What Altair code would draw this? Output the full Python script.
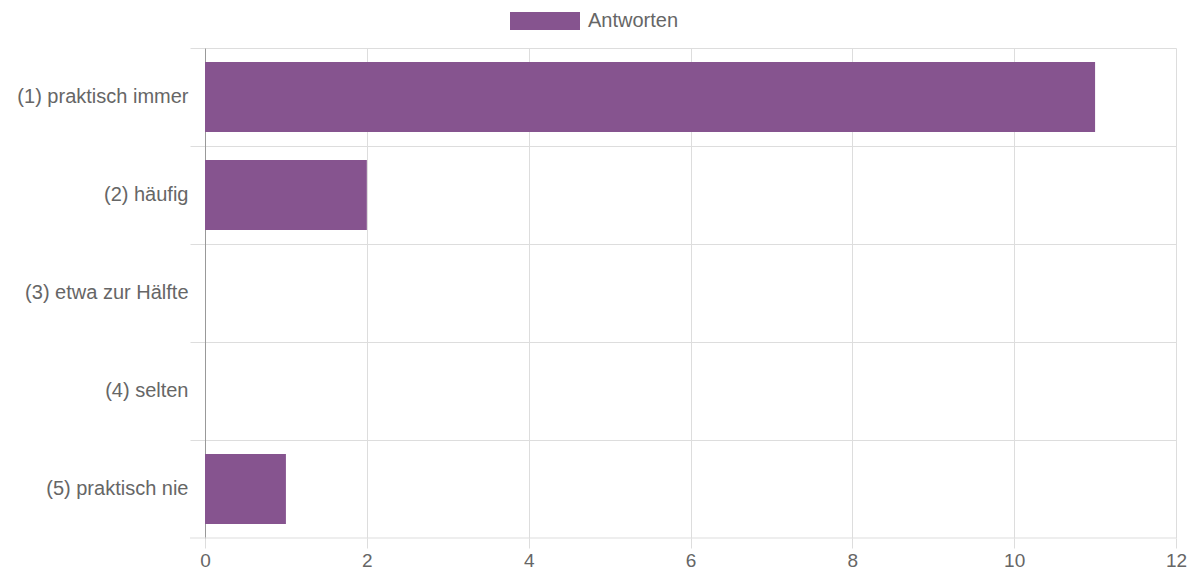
import altair as alt
import pandas as pd

categories = ["(1) praktisch immer", "(2) häufig", "(3) etwa zur Hälfte", "(4) selten", "(5) praktisch nie"]
values = [11, 2, 0, 0, 1]
series = ["Antworten"] * len(categories)

df = pd.DataFrame({"Kategorie": categories, "Anzahl": values, "Serie": series})

FONT = "Liberation Sans"
TXT = "#666666"
FS = 20

bars = alt.Chart(df).mark_bar(size=70).encode(
    y=alt.Y("Kategorie:N", sort=categories, title=None,
            axis=alt.Axis(bandPosition=0, tickSize=15, tickColor="#dddddd", grid=True,
                          gridColor="#dddddd", domainColor="#999999", labelPadding=2,
                          labelFontSize=FS, labelColor=TXT, labelFont=FONT,
                          labelAlign="right", labelBaseline="middle", labelLimit=300,
                          ticks=True)),
    x=alt.X("Anzahl:Q", scale=alt.Scale(domain=[0, 12], nice=False), title=None,
            axis=alt.Axis(values=[0, 2, 4, 6, 8, 10, 12], grid=True, gridColor="#dddddd",
                          tickColor="#dddddd", tickSize=10, domain=False,
                          labelFontSize=19, labelColor=TXT, labelFont=FONT,
                          labelPadding=3, labelFlush=False)),
    color=alt.Color("Serie:N", scale=alt.Scale(range=["#86548f"]), title=None,
                    legend=alt.Legend(orient="none", legendX=305, legendY=-62, padding=0,
                                      symbolType="M-1,-0.26 h2 v0.52 h-2 Z", symbolSize=4900,
                                      symbolStrokeWidth=0, symbolOpacity=1,
                                      labelFontSize=FS, labelColor=TXT, labelFont=FONT,
                                      labelOffset=8)),
)

bottom = alt.Chart(pd.DataFrame({"a": [0]})).mark_rule(color="#dddddd").encode(
    x=alt.value(-15), x2=alt.value(971), y=alt.value(490)
)

chart = alt.layer(bottom, bars).properties(
    width=971, height=490,
    autosize=alt.AutoSizeParams(type="none"),
    padding={"left": 197, "top": 40, "right": 15, "bottom": 32},
).configure_view(stroke=None).configure_scale(bandPaddingInner=0)

chart.save("out.html", embed_options={"renderer": "svg", "actions": False})
